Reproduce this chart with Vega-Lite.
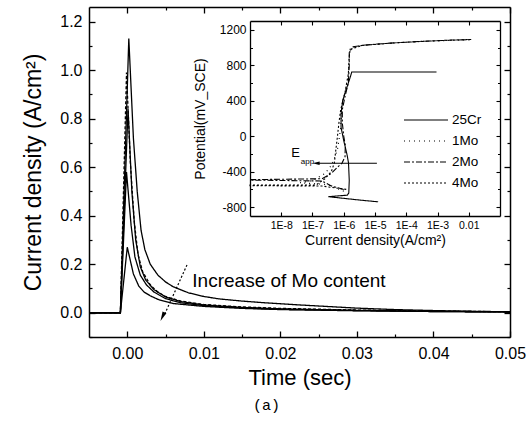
{
  "$schema": "https://vega.github.io/schema/vega-lite/v6.json",
  "width": 421,
  "height": 330,
  "autosize": {"type": "none"},
  "padding": {"left": 89, "top": 7, "right": 17, "bottom": 90},
  "background": "white",
  "config": {
    "view": {"stroke": null},
    "font": "Liberation Sans",
    "axis": {"domainColor": "black", "tickColor": "black", "labelColor": "black", "titleColor": "black", "grid": false, "labelFont": "Liberation Sans", "titleFont": "Liberation Sans", "titleFontWeight": "normal", "labelFlush": false, "labelOverlap": false}
  },
  "title": {"text": "(a)", "orient": "bottom", "font": "Liberation Mono", "fontSize": 15, "fontWeight": "normal", "color": "black", "anchor": "middle", "dx": -33, "offset": 10},
  "datasets": {
    "main": [
      {"s": "A", "t": -0.005, "c": 0}, {"s": "A", "t": -0.0009, "c": 0}, {"s": "A", "t": 0.0002, "c": 1.13}, {"s": "A", "t": 0.0008, "c": 0.72}, {"s": "A", "t": 0.0013, "c": 0.5}, {"s": "A", "t": 0.0018, "c": 0.34}, {"s": "A", "t": 0.0023, "c": 0.26}, {"s": "A", "t": 0.003, "c": 0.2}, {"s": "A", "t": 0.004, "c": 0.155}, {"s": "A", "t": 0.005, "c": 0.127}, {"s": "A", "t": 0.006, "c": 0.107}, {"s": "A", "t": 0.008, "c": 0.082}, {"s": "A", "t": 0.01, "c": 0.067}, {"s": "A", "t": 0.012, "c": 0.057}, {"s": "A", "t": 0.015, "c": 0.048}, {"s": "A", "t": 0.018, "c": 0.041}, {"s": "A", "t": 0.022, "c": 0.033}, {"s": "A", "t": 0.026, "c": 0.026}, {"s": "A", "t": 0.03, "c": 0.019}, {"s": "A", "t": 0.035, "c": 0.013}, {"s": "A", "t": 0.04, "c": 0.009}, {"s": "A", "t": 0.045, "c": 0.006}, {"s": "A", "t": 0.05, "c": 0.004},
      {"s": "B", "t": -0.005, "c": 0}, {"s": "B", "t": -0.0009, "c": 0}, {"s": "B", "t": -0.0001, "c": 0.99}, {"s": "B", "t": 0.0004, "c": 0.62}, {"s": "B", "t": 0.0009, "c": 0.38}, {"s": "B", "t": 0.0014, "c": 0.24}, {"s": "B", "t": 0.002, "c": 0.17}, {"s": "B", "t": 0.003, "c": 0.115}, {"s": "B", "t": 0.004, "c": 0.085}, {"s": "B", "t": 0.005, "c": 0.067}, {"s": "B", "t": 0.007, "c": 0.048}, {"s": "B", "t": 0.01, "c": 0.034}, {"s": "B", "t": 0.015, "c": 0.024}, {"s": "B", "t": 0.02, "c": 0.018}, {"s": "B", "t": 0.03, "c": 0.011}, {"s": "B", "t": 0.04, "c": 0.007}, {"s": "B", "t": 0.05, "c": 0.004},
      {"s": "C", "t": -0.005, "c": 0}, {"s": "C", "t": -0.0009, "c": 0}, {"s": "C", "t": 0.0001, "c": 0.84}, {"s": "C", "t": 0.0006, "c": 0.5}, {"s": "C", "t": 0.0011, "c": 0.3}, {"s": "C", "t": 0.0017, "c": 0.19}, {"s": "C", "t": 0.0024, "c": 0.135}, {"s": "C", "t": 0.0035, "c": 0.095}, {"s": "C", "t": 0.005, "c": 0.065}, {"s": "C", "t": 0.007, "c": 0.046}, {"s": "C", "t": 0.01, "c": 0.032}, {"s": "C", "t": 0.015, "c": 0.022}, {"s": "C", "t": 0.02, "c": 0.016}, {"s": "C", "t": 0.03, "c": 0.01}, {"s": "C", "t": 0.04, "c": 0.006}, {"s": "C", "t": 0.05, "c": 0.004},
      {"s": "D", "t": -0.005, "c": 0}, {"s": "D", "t": -0.0009, "c": 0}, {"s": "D", "t": -0.0001, "c": 0.58}, {"s": "D", "t": 0.0005, "c": 0.36}, {"s": "D", "t": 0.001, "c": 0.23}, {"s": "D", "t": 0.0017, "c": 0.155}, {"s": "D", "t": 0.0025, "c": 0.115}, {"s": "D", "t": 0.0035, "c": 0.085}, {"s": "D", "t": 0.005, "c": 0.058}, {"s": "D", "t": 0.007, "c": 0.041}, {"s": "D", "t": 0.01, "c": 0.029}, {"s": "D", "t": 0.015, "c": 0.02}, {"s": "D", "t": 0.02, "c": 0.014}, {"s": "D", "t": 0.03, "c": 0.009}, {"s": "D", "t": 0.04, "c": 0.005}, {"s": "D", "t": 0.05, "c": 0.003},
      {"s": "E", "t": -0.005, "c": 0}, {"s": "E", "t": -0.0009, "c": 0}, {"s": "E", "t": 0.0, "c": 0.27}, {"s": "E", "t": 0.0008, "c": 0.16}, {"s": "E", "t": 0.0015, "c": 0.11}, {"s": "E", "t": 0.0022, "c": 0.085}, {"s": "E", "t": 0.003, "c": 0.07}, {"s": "E", "t": 0.004, "c": 0.055}, {"s": "E", "t": 0.006, "c": 0.038}, {"s": "E", "t": 0.01, "c": 0.026}, {"s": "E", "t": 0.015, "c": 0.018}, {"s": "E", "t": 0.02, "c": 0.013}, {"s": "E", "t": 0.03, "c": 0.008}, {"s": "E", "t": 0.04, "c": 0.005}, {"s": "E", "t": 0.05, "c": 0.003}
    ],
    "inset": [
      {"s": "25Cr", "i": 1.26e-5, "v": -740}, {"s": "25Cr", "i": 3.2e-6, "v": -720}, {"s": "25Cr", "i": 3.2e-7, "v": -682}, {"s": "25Cr", "i": 1.3e-6, "v": -665}, {"s": "25Cr", "i": 1.45e-6, "v": -640}, {"s": "25Cr", "i": 1.5e-6, "v": -500}, {"s": "25Cr", "i": 1.42e-6, "v": -300}, {"s": "25Cr", "i": 1.26e-6, "v": -200}, {"s": "25Cr", "i": 1.0e-6, "v": -50}, {"s": "25Cr", "i": 8.2e-7, "v": 100}, {"s": "25Cr", "i": 8.2e-7, "v": 250}, {"s": "25Cr", "i": 9.2e-7, "v": 400}, {"s": "25Cr", "i": 1.26e-6, "v": 550}, {"s": "25Cr", "i": 1.66e-6, "v": 680}, {"s": "25Cr", "i": 1.8e-6, "v": 725}, {"s": "25Cr", "i": 9.3e-4, "v": 725},
      {"s": "1Mo", "i": 1.0e-6, "v": -620}, {"s": "1Mo", "i": 3.0e-7, "v": -545}, {"s": "1Mo", "i": 4.0e-8, "v": -525}, {"s": "1Mo", "i": 1.0e-7, "v": -500}, {"s": "1Mo", "i": 2.5e-7, "v": -420}, {"s": "1Mo", "i": 4.0e-7, "v": -330}, {"s": "1Mo", "i": 5.0e-7, "v": -250}, {"s": "1Mo", "i": 6.3e-7, "v": -150}, {"s": "1Mo", "i": 7.0e-7, "v": -50}, {"s": "1Mo", "i": 8.0e-7, "v": 100}, {"s": "1Mo", "i": 8.5e-7, "v": 300}, {"s": "1Mo", "i": 1.1e-6, "v": 500}, {"s": "1Mo", "i": 1.4e-6, "v": 700}, {"s": "1Mo", "i": 1.5e-6, "v": 900}, {"s": "1Mo", "i": 1.6e-6, "v": 990}, {"s": "1Mo", "i": 3.0e-6, "v": 1020}, {"s": "1Mo", "i": 2.0e-5, "v": 1045}, {"s": "1Mo", "i": 3.0e-4, "v": 1070}, {"s": "1Mo", "i": 1.0e-2, "v": 1088},
      {"s": "2Mo", "i": 1.0e-6, "v": -600}, {"s": "2Mo", "i": 4.0e-7, "v": -560}, {"s": "2Mo", "i": 2.0e-7, "v": -505}, {"s": "2Mo", "i": 1.0e-9, "v": -495}, {"s": "2Mo", "i": 1.0e-9, "v": -490}, {"s": "2Mo", "i": 2.0e-7, "v": -480}, {"s": "2Mo", "i": 4.0e-7, "v": -420}, {"s": "2Mo", "i": 6.3e-7, "v": -350}, {"s": "2Mo", "i": 8.9e-7, "v": -300}, {"s": "2Mo", "i": 1.1e-6, "v": -230}, {"s": "2Mo", "i": 1.12e-6, "v": -100}, {"s": "2Mo", "i": 1.0e-6, "v": 0}, {"s": "2Mo", "i": 9.0e-7, "v": 150}, {"s": "2Mo", "i": 9.0e-7, "v": 300}, {"s": "2Mo", "i": 1.1e-6, "v": 450}, {"s": "2Mo", "i": 1.4e-6, "v": 600}, {"s": "2Mo", "i": 1.5e-6, "v": 800}, {"s": "2Mo", "i": 1.5e-6, "v": 950}, {"s": "2Mo", "i": 2.0e-6, "v": 1010}, {"s": "2Mo", "i": 5.0e-6, "v": 1030}, {"s": "2Mo", "i": 3.0e-5, "v": 1050}, {"s": "2Mo", "i": 3.0e-4, "v": 1070}, {"s": "2Mo", "i": 3.0e-3, "v": 1085}, {"s": "2Mo", "i": 1.1e-2, "v": 1090},
      {"s": "4Mo", "i": 1.2e-6, "v": -600}, {"s": "4Mo", "i": 2.0e-7, "v": -562}, {"s": "4Mo", "i": 1.0e-9, "v": -558}, {"s": "4Mo", "i": 1.0e-9, "v": -552}, {"s": "4Mo", "i": 1.3e-7, "v": -550}, {"s": "4Mo", "i": 2.5e-7, "v": -480}, {"s": "4Mo", "i": 4.0e-7, "v": -400}, {"s": "4Mo", "i": 5.0e-7, "v": -300}, {"s": "4Mo", "i": 5.6e-7, "v": -150}, {"s": "4Mo", "i": 6.3e-7, "v": 0}, {"s": "4Mo", "i": 7.0e-7, "v": 150}, {"s": "4Mo", "i": 8.0e-7, "v": 300}, {"s": "4Mo", "i": 1.1e-6, "v": 500}, {"s": "4Mo", "i": 1.4e-6, "v": 700}, {"s": "4Mo", "i": 1.5e-6, "v": 900}, {"s": "4Mo", "i": 1.6e-6, "v": 980}, {"s": "4Mo", "i": 4.0e-6, "v": 1025}, {"s": "4Mo", "i": 5.0e-5, "v": 1055}, {"s": "4Mo", "i": 1.0e-3, "v": 1078}, {"s": "4Mo", "i": 1.2e-2, "v": 1092}
    ]
  },
  "layer": [
    {
      "data": {"name": "main"},
      "mark": {"type": "line", "color": "black", "strokeWidth": 1.3},
      "encoding": {
        "x": {"field": "t", "type": "quantitative", "scale": {"domain": [-0.005, 0.05], "nice": false, "zero": false},
          "axis": {"orient": "bottom", "values": [0, 0.01, 0.02, 0.03, 0.04, 0.05], "format": ".2f", "title": "Time (sec)", "tickSize": -6, "tickWidth": 1.3, "domainWidth": 1.5, "labelPadding": 14, "labelFontSize": 16, "titleFontSize": 22, "titlePadding": 6}},
        "y": {"field": "c", "type": "quantitative", "scale": {"domain": [-0.1, 1.26], "nice": false, "zero": false},
          "axis": {"orient": "left", "values": [0, 0.2, 0.4, 0.6, 0.8, 1.0, 1.2], "format": ".1f", "title": "Current density (A/cm²)", "tickSize": -6, "tickWidth": 1.3, "domainWidth": 1.5, "labelPadding": 13, "labelFontSize": 16, "titleFontSize": 23, "titlePadding": 14}},
        "detail": {"field": "s", "type": "nominal"},
        "strokeDash": {"field": "s", "type": "nominal", "scale": {"domain": ["A", "B", "C", "D", "E"], "range": [[1, 0], [3, 2], [1, 0], [1, 0], [1, 0]]}, "legend": null}
      }
    },
    {
      "data": {"name": "main"},
      "mark": {"type": "point", "opacity": 0},
      "encoding": {
        "x": {"field": "t", "type": "quantitative", "scale": {"domain": [-0.005, 0.05], "nice": false, "zero": false},
          "axis": {"orient": "top", "values": [0, 0.01, 0.02, 0.03, 0.04, 0.05], "labels": false, "title": null, "tickSize": -6, "tickWidth": 1.3, "domainWidth": 1.5}},
        "y": {"field": "c", "type": "quantitative", "scale": {"domain": [-0.1, 1.26], "nice": false, "zero": false},
          "axis": {"orient": "right", "values": [0, 0.2, 0.4, 0.6, 0.8, 1.0, 1.2], "labels": false, "title": null, "tickSize": -6, "tickWidth": 1.3, "domainWidth": 1.5}}
      }
    },
    {
      "data": {"name": "main"},
      "mark": {"type": "point", "opacity": 0},
      "encoding": {
        "x": {"field": "t", "type": "quantitative", "scale": {"domain": [-0.005, 0.05], "nice": false, "zero": false},
          "axis": {"orient": "bottom", "values": [0.005, 0.015, 0.025, 0.035, 0.045], "labels": false, "title": null, "domain": false, "tickSize": -3, "tickWidth": 1.2}},
        "y": {"field": "c", "type": "quantitative", "scale": {"domain": [-0.1, 1.26], "nice": false, "zero": false},
          "axis": {"orient": "left", "values": [-0.1, 0.1, 0.3, 0.5, 0.7, 0.9, 1.1], "labels": false, "title": null, "domain": false, "tickSize": -3, "tickWidth": 1.2}}
      }
    },
    {
      "data": {"name": "main"},
      "mark": {"type": "point", "opacity": 0},
      "encoding": {
        "x": {"field": "t", "type": "quantitative", "scale": {"domain": [-0.005, 0.05], "nice": false, "zero": false},
          "axis": {"orient": "top", "values": [0.005, 0.015, 0.025, 0.035, 0.045], "labels": false, "title": null, "domain": false, "tickSize": -3, "tickWidth": 1.2}},
        "y": {"field": "c", "type": "quantitative", "scale": {"domain": [-0.1, 1.26], "nice": false, "zero": false},
          "axis": {"orient": "right", "values": [-0.1, 0.1, 0.3, 0.5, 0.7, 0.9, 1.1], "labels": false, "title": null, "domain": false, "tickSize": -3, "tickWidth": 1.2}}
      }
    },
    {
      "data": {"values": [{"t": 0.0078, "c": 0.197, "t2": 0.0049, "c2": -0.005}]},
      "mark": {"type": "rule", "color": "black", "strokeWidth": 1.2, "strokeDash": [2, 2]},
      "encoding": {
        "x": {"field": "t", "type": "quantitative", "scale": {"domain": [-0.005, 0.05], "nice": false, "zero": false}, "axis": null},
        "y": {"field": "c", "type": "quantitative", "scale": {"domain": [-0.1, 1.26], "nice": false, "zero": false}, "axis": null},
        "x2": {"field": "t2"},
        "y2": {"field": "c2"}
      }
    },
    {
      "data": {"values": [{"t": 0.0046, "c": -0.016}]},
      "mark": {"type": "point", "shape": "M0,-1L0.45,1L-0.45,1Z", "filled": true, "color": "black", "opacity": 1, "size": 90, "angle": 205},
      "encoding": {
        "x": {"field": "t", "type": "quantitative", "scale": {"domain": [-0.005, 0.05], "nice": false, "zero": false}, "axis": null},
        "y": {"field": "c", "type": "quantitative", "scale": {"domain": [-0.1, 1.26], "nice": false, "zero": false}, "axis": null}
      }
    },
    {
      "data": {"values": [{"t": 0.0085, "c": 0.105, "label": "Increase of Mo content"}]},
      "mark": {"type": "text", "align": "left", "baseline": "alphabetic", "font": "Liberation Sans", "fontSize": 19, "fill": "black"},
      "encoding": {
        "x": {"field": "t", "type": "quantitative", "scale": {"domain": [-0.005, 0.05], "nice": false, "zero": false}, "axis": null},
        "y": {"field": "c", "type": "quantitative", "scale": {"domain": [-0.1, 1.26], "nice": false, "zero": false}, "axis": null},
        "text": {"field": "label"}
      }
    },
    {
      "data": {"name": "inset"},
      "mark": {"type": "line", "color": "black", "strokeWidth": 1.1},
      "encoding": {
        "x": {"field": "i", "type": "quantitative", "scale": {"type": "log", "domain": [1e-9, 0.1], "range": [161, 411], "nice": false},
          "axis": {"orient": "bottom", "offset": -121, "values": [1e-8, 1e-7, 1e-6, 1e-5, 1e-4, 1e-3, 1e-2], "labelExpr": "datum.value > 0.005 ? '0.01' : '1E-' + format(-log(datum.value)/LN10, '.0f')", "title": "Current density(A/cm²)", "tickSize": -4, "tickWidth": 1.1, "domainWidth": 1.3, "labelPadding": 8, "labelFontSize": 10.5, "titleFontSize": 14, "titlePadding": 3}},
        "y": {"field": "v", "type": "quantitative", "scale": {"domain": [-900, 1300], "range": [209, 14], "nice": false, "zero": false},
          "axis": {"orient": "left", "offset": -161, "values": [-800, -400, 0, 400, 800, 1200], "labelExpr": "'' + datum.value", "title": "Potential(mV_SCE)", "tickSize": -4, "tickWidth": 1.1, "domainWidth": 1.3, "labelPadding": 8, "labelFontSize": 12, "titleFontSize": 14, "titlePadding": 12}},
        "order": {"value": null},
        "strokeDash": {"field": "s", "type": "nominal", "scale": {"domain": ["25Cr", "1Mo", "2Mo", "4Mo"], "range": [[1, 0], [1, 4], [6, 2, 2, 2], [2, 2]]},
          "legend": {"orient": "none", "legendX": 314, "legendY": 105, "title": null, "symbolType": "stroke", "symbolSize": 1936, "clipHeight": 16, "symbolStrokeColor": "black", "symbolStrokeWidth": 1.2, "labelFont": "Liberation Sans", "labelFontSize": 13.5, "labelColor": "black", "rowPadding": 5, "labelOffset": 3}}
      }
    },
    {
      "data": {"name": "inset"},
      "mark": {"type": "point", "opacity": 0},
      "encoding": {
        "x": {"field": "i", "type": "quantitative", "scale": {"type": "log", "domain": [1e-9, 0.1], "range": [161, 411], "nice": false},
          "axis": {"orient": "top", "offset": -14, "values": [1e-8, 1e-7, 1e-6, 1e-5, 1e-4, 1e-3, 1e-2], "labels": false, "title": null, "tickSize": -4, "tickWidth": 1.1, "domainWidth": 1.3}},
        "y": {"field": "v", "type": "quantitative", "scale": {"domain": [-900, 1300], "range": [209, 14], "nice": false, "zero": false},
          "axis": {"orient": "right", "offset": -10, "values": [-800, -400, 0, 400, 800, 1200], "labels": false, "title": null, "tickSize": -4, "tickWidth": 1.1, "domainWidth": 1.3}}
      }
    },
    {
      "data": {"name": "inset"},
      "mark": {"type": "point", "opacity": 0},
      "encoding": {
        "x": {"field": "i", "type": "quantitative", "scale": {"type": "log", "domain": [1e-9, 0.1], "range": [161, 411], "nice": false}, "axis": null},
        "y": {"field": "v", "type": "quantitative", "scale": {"domain": [-900, 1300], "range": [209, 14], "nice": false, "zero": false},
          "axis": {"orient": "left", "offset": -161, "values": [-600, -200, 200, 600, 1000], "labels": false, "title": null, "domain": false, "tickSize": -2.5, "tickWidth": 1}}
      }
    },
    {
      "data": {"name": "inset"},
      "mark": {"type": "point", "opacity": 0},
      "encoding": {
        "x": {"field": "i", "type": "quantitative", "scale": {"type": "log", "domain": [1e-9, 0.1], "range": [161, 411], "nice": false}, "axis": null},
        "y": {"field": "v", "type": "quantitative", "scale": {"domain": [-900, 1300], "range": [209, 14], "nice": false, "zero": false},
          "axis": {"orient": "right", "offset": -10, "values": [-600, -200, 200, 600, 1000], "labels": false, "title": null, "domain": false, "tickSize": -2.5, "tickWidth": 1}}
      }
    },
    {
      "data": {"values": [{"i": 1.6e-7, "v": -305, "i2": 1.15e-5}]},
      "mark": {"type": "rule", "color": "black", "strokeWidth": 1.2},
      "encoding": {
        "x": {"field": "i", "type": "quantitative", "scale": {"type": "log", "domain": [1e-9, 0.1], "range": [161, 411], "nice": false}, "axis": null},
        "y": {"field": "v", "type": "quantitative", "scale": {"domain": [-900, 1300], "range": [209, 14], "nice": false, "zero": false}, "axis": null},
        "x2": {"field": "i2"}
      }
    },
    {
      "data": {"values": [{"i": 1.3e-7, "v": -305}]},
      "mark": {"type": "point", "shape": "M0,-1L0.5,1L-0.5,1Z", "filled": true, "color": "black", "opacity": 1, "size": 50, "angle": 270},
      "encoding": {
        "x": {"field": "i", "type": "quantitative", "scale": {"type": "log", "domain": [1e-9, 0.1], "range": [161, 411], "nice": false}, "axis": null},
        "y": {"field": "v", "type": "quantitative", "scale": {"domain": [-900, 1300], "range": [209, 14], "nice": false, "zero": false}, "axis": null}
      }
    },
    {
      "data": {"values": [{"i": 2.1e-8, "v": -231, "label": "E", "sz": "big"}, {"i": 4.2e-8, "v": -313, "label": "app", "sz": "small"}]},
      "mark": {"type": "text", "align": "left", "baseline": "alphabetic", "font": "Liberation Sans", "fill": "black"},
      "encoding": {
        "x": {"field": "i", "type": "quantitative", "scale": {"type": "log", "domain": [1e-9, 0.1], "range": [161, 411], "nice": false}, "axis": null},
        "y": {"field": "v", "type": "quantitative", "scale": {"domain": [-900, 1300], "range": [209, 14], "nice": false, "zero": false}, "axis": null},
        "text": {"field": "label"},
        "color": {"value": "black"},
        "size": {"field": "sz", "type": "nominal", "scale": {"domain": ["big", "small"], "range": [13, 8]}, "legend": null}
      }
    }
  ],
  "resolve": {"scale": {"x": "independent", "y": "independent", "strokeDash": "independent", "size": "independent"}}
}
